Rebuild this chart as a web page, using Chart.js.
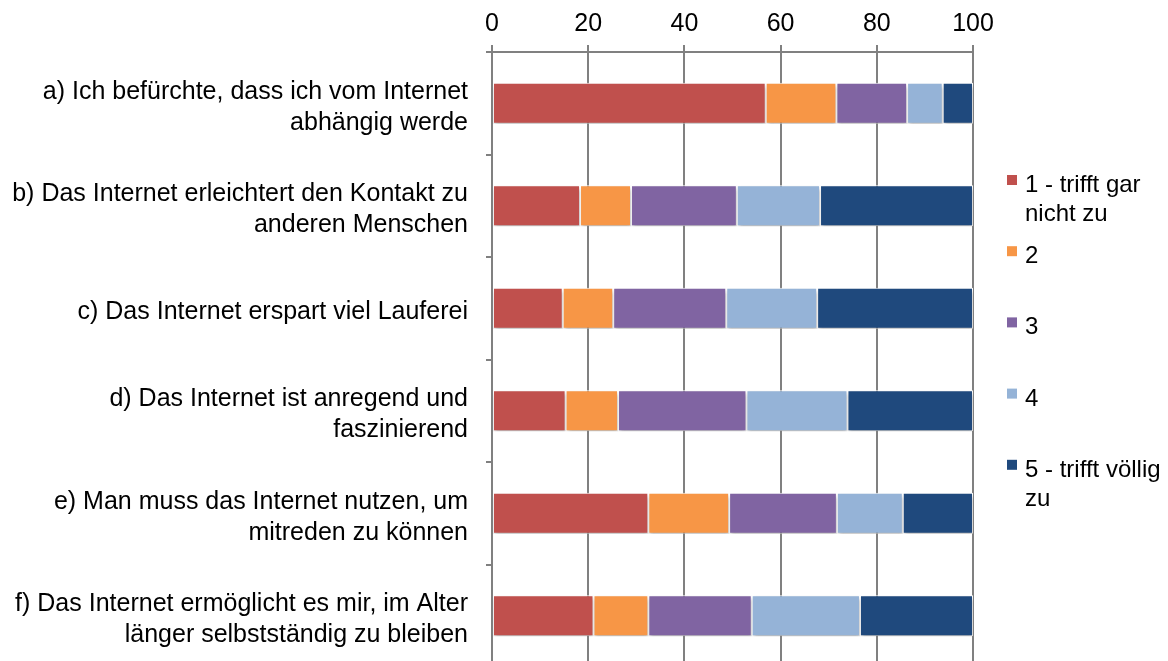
<!DOCTYPE html>
<html>
<head>
<meta charset="utf-8">
<script src="https://cdn.jsdelivr.net/npm/chart.js@4.4.1/dist/chart.umd.min.js"></script>
<style>
	html, body { margin: 0; padding: 0; background: #fff; overflow: hidden; }
	#wrap { width: 1168px; height: 661px; overflow: hidden; }
</style>
</head>
<body>
<div id="wrap"><canvas id="bar-chart" width="1168" height="667"></canvas></div>
<script>
// Kategorien (Aussagen)
var categories = [
	["a) Ich befürchte, dass ich vom Internet", "abhängig werde"],
	["b) Das Internet erleichtert den Kontakt zu", "anderen Menschen"],
	["c) Das Internet erspart viel Lauferei"],
	["d) Das Internet ist anregend und", "faszinierend"],
	["e) Man muss das Internet nutzen, um", "mitreden zu können"],
	["f) Das Internet ermöglicht es mir, im Alter", "länger selbstständig zu bleiben"]
];

var seriesLabels = ["1 - trifft gar nicht zu", "2", "3", "4", "5 - trifft völlig zu"];
var seriesColors = ["#C0504D", "#F79646", "#8064A2", "#95B3D7", "#1F497D"];

// Anteile in Prozent, je Antwortstufe
var stufe1 = [56.9, 18.3, 14.7, 15.3, 32.5, 21.1];
var stufe2 = [14.7, 10.6, 10.5, 10.9, 16.8, 11.4];
var stufe3 = [14.7, 22.0, 23.5, 26.7, 22.4, 21.5];
var stufe4 = [7.4, 17.3, 18.9, 21.0, 13.7, 22.5];
var stufe5 = [6.3, 31.8, 32.4, 26.1, 14.6, 23.5];

var xTicks = [0, 20, 40, 60, 80, 100];

var gridGrey = "#808080";
var fontFamily = "'Liberation Sans', Arial, sans-serif";

var shadowPlugin = {
	id: "shadow",
	beforeDatasetsDraw: function(chart){
		var ctx = chart.ctx;
		ctx.save();
		ctx.shadowColor = "rgba(0,0,0,0.28)";
		ctx.shadowBlur = 4;
		ctx.shadowOffsetX = 1;
		ctx.shadowOffsetY = 3;
	},
	afterDatasetsDraw: function(chart){
		chart.ctx.restore();
	}
};

// eigene Legende rechts, mit Zeilenumbruch
var legendPlugin = {
	id: "rightLegend",
	afterDraw: function(chart){
		var ctx = chart.ctx;
		var x = 1007, textX = 1025, maxW = 156;
		ctx.save();
		ctx.font = "24px " + fontFamily;
		ctx.textBaseline = "alphabetic";
		ctx.textAlign = "left";
		chart.data.datasets.forEach(function(ds, i){
			var y0 = 175 + i * 71.2;
			ctx.fillStyle = ds.backgroundColor;
			ctx.fillRect(x, y0, 10, 10);
			// Zeilen umbrechen
			var words = ds.label.split(" ");
			var lines = [], cur = "";
			for (var w of words){
				var test = cur ? cur + " " + w : w;
				if (ctx.measureText(test).width > maxW && cur){
					lines.push(cur);
					cur = w;
				} else {
					cur = test;
				}
			}
			lines.push(cur);
			ctx.fillStyle = "#000";
			lines.forEach(function(l, j){
				ctx.fillText(l, textX, y0 + 17 + j * 29);
			});
		});
		ctx.restore();
	}
};

var datasets = [stufe1, stufe2, stufe3, stufe4, stufe5].map(function(d, i){
	return {
		label: seriesLabels[i],
		data: d,
		backgroundColor: seriesColors[i],
		borderColor: "#ffffff",
		borderWidth: 1,
		borderSkipped: false,
		barPercentage: 0.4,
		categoryPercentage: 1.0
	};
});

new Chart(document.getElementById("bar-chart"), {
	type: "bar",
	data: {
		labels: categories,
		datasets: datasets
	},
	plugins: [shadowPlugin, legendPlugin],
	options: {
		indexAxis: "y",
		responsive: false,
		animation: false,
		devicePixelRatio: 1,
		layout: { padding: { left: 0, right: 195, top: 0, bottom: 0 } },
		plugins: {
			legend: { display: false },
			tooltip: { enabled: false }
		},
		scales: {
			x: {
				position: "top",
				stacked: true,
				min: 0,
				max: 100,
				afterBuildTicks: function(s){
					s.ticks = xTicks.map(function(v){ return { value: v }; });
				},
				afterFit: function(s){ s.height = 52; },
				ticks: {
					color: "#000",
					padding: 6,
					font: { family: fontFamily, size: 25 }
				},
				grid: {
					color: gridGrey,
					lineWidth: 2,
					tickLength: 7,
					drawTicks: true
				},
				border: { display: true, color: gridGrey, width: 2 }
			},
			y: {
				stacked: true,
				afterFit: function(s){
					s.width = 492;
					s.paddingTop = 0;
					s.paddingBottom = 0;
				},
				ticks: {
					color: "#000",
					padding: 18,
					labelOffset: 4,
					font: { family: fontFamily, size: 25, lineHeight: 1.25 }
				},
				grid: {
					offset: true,
					drawOnChartArea: false,
					drawTicks: true,
					tickLength: 6,
					color: gridGrey,
					lineWidth: 2
				},
				border: { display: true, color: gridGrey, width: 2 }
			}
		}
	}
});
</script>
</body>
</html>
